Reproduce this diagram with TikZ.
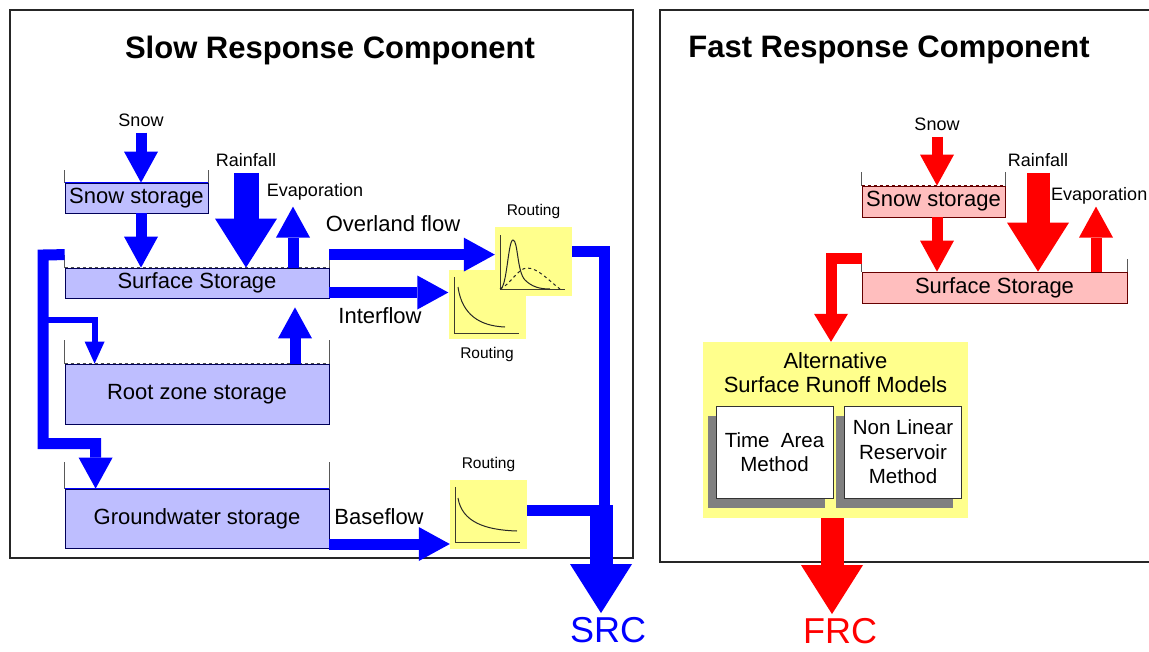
\documentclass[tikz,border=0pt]{standalone}
\usepackage{fontspec}
\setmainfont{Liberation Sans}
\usetikzlibrary{arrows.meta,positioning,shadows}

\definecolor{srcblue}{RGB}{0,0,255}
\definecolor{frcred}{RGB}{255,0,0}
\definecolor{tankblue}{RGB}{190,190,255}
\definecolor{tankpink}{RGB}{255,190,190}
\definecolor{routeyel}{RGB}{255,255,140}

\tikzset{
  panel/.style={draw=black!85, line width=1.2pt},
  title/.style={font=\fontsize{31}{34}\selectfont\bfseries, inner sep=0pt},
  lbl/.style={font=\fontsize{18}{20}\selectfont, inner sep=0pt},
  rlbl/.style={font=\fontsize{15.5}{17}\selectfont, inner sep=0pt},
  flbl/.style={font=\fontsize{22}{24}\selectfont, inner sep=0pt},
  tank/.style={line width=0.8pt, inner sep=0pt, font=\fontsize{22}{24}\selectfont},
  btank/.style={tank, fill=tankblue, draw=blue!35!black},
  rtank/.style={tank, fill=tankpink, draw=red!40!black},
  wall/.style={draw=black!65, line width=1.2pt},
  route/.style={fill=routeyel, inner sep=0pt, minimum width=77pt, minimum height=69pt},
  axis/.style={draw=black!75!olive, line width=1pt},
  curve/.style={draw=black!85, line width=1pt},
  pipe/.style={line width=11pt, line join=miter},
  flow/.style={line width=11pt, line join=miter, -{Triangle[width=34pt,length=31pt,line width=0pt]}},
  thinflow/.style={line width=6pt, line join=miter, -{Triangle[width=20pt,length=22pt,line width=0pt]}},
  bigflow/.style={line width=23pt, -{Triangle[width=62pt,length=49pt,line width=0pt]}},
  method/.style={draw=black!80, fill=white, line width=0.8pt, minimum width=117pt, minimum height=92pt,
    align=center, font=\fontsize{20.5}{24.5}\selectfont, inner sep=0pt,
    drop shadow={shadow xshift=-8.5pt, shadow yshift=-10pt, fill=black!50, opacity=1}},
}

\begin{document}
\begin{tikzpicture}[x=1pt,y=-1pt]
  \useasboundingbox (0,0) rectangle (1149,651);
  \fill[white] (0,0) rectangle (1149,651);

  \draw[panel] (10,10) rectangle (633,558);
  \draw[panel] (1170,10) -| (660,562) -- (1170,562);

  \node[title] (sltitle) at (330,50) {Slow Response Component};
  \node[title] (fstitle) at (889,50) {Fast Response Component};

  % slow response component
  \node[btank, minimum width=143pt, minimum height=30pt] (snowS) at (136.5,198) {Snow storage};
  \node[btank, minimum width=264pt, minimum height=30pt] (surfS) at (197,283) {Surface Storage};
  \node[btank, minimum width=264pt, minimum height=60pt] (rootS) at (197,394) {Root zone storage};
  \node[btank, minimum width=264pt, minimum height=59pt] (gwS) at (197,518.5) {Groundwater storage};

  \draw[wall] (snowS.north west) -- ++(0,-13);
  \draw[wall] (snowS.north east) -- ++(0,-13);
  \draw[wall] (surfS.north west) -- ++(0,-13);
  \draw[wall] (surfS.north east) -- ++(0,-13);
  \draw[wall] (rootS.north west) -- ++(0,-24);
  \draw[wall] (rootS.north east) -- ++(0,-24);
  \draw[wall] (gwS.north west) -- ++(0,-27);
  \draw[wall] (gwS.north east) -- ++(0,-27);
  \draw[srcblue, line width=1.5pt] (snowS.north west) -- (snowS.north east);
  \draw[srcblue, line width=1.5pt] (gwS.north west) -- (gwS.north east);
  \draw[black!70, dashed] (surfS.north west) -- (surfS.north east);
  \draw[black!70, dashed] (rootS.north west) -- (rootS.north east);

  \node[lbl] (snowL) at (141,120) {Snow};
  \node[lbl] (rainL) at (246,160) {Rainfall};
  \node[lbl] (evapL) at (315,192) {Evaporation};
  \node[flbl] (ovlL) at (393,224) {Overland flow};
  \node[flbl] (intL) at (380,316) {Interflow};
  \node[flbl] (baseL) at (379,517) {Baseflow};

  \draw[flow, srcblue] ([yshift=-6pt]snowL.south) -- (snowL.south |- snowS.north);
  \draw[flow, srcblue] (snowL |- snowS.south) -- (snowL |- surfS.north);
  \draw[bigflow, srcblue, line width=25pt] ([yshift=-6pt]rainL.south) -- (rainL |- surfS.north);
  \draw[flow, srcblue] ([xshift=96pt]surfS.north) -- ++(0,-61);
  \draw[flow, srcblue] ([xshift=98pt]rootS.north) -- ([xshift=98pt,yshift=-9pt]surfS.south);

  % routing boxes
  \node[route] (rt2) at (487,304) {};
  \draw[axis] (454,277) -- (454,333) -- (519,333);
  \draw[curve] (458,287) .. controls (462,315) and (480,326) .. (505,327);
  \node[route] (rt1) at (533.5,261.5) {};
  \draw[axis] (500,235) -- (500,289) -- (565,289);
  \draw[curve] (500,289) .. controls (507,289) and (508,240) .. (513,240)
    .. controls (518,240) and (517,272) .. (525,280)
    .. controls (532,287) and (540,289) .. (550,289);
  \draw[curve, dashed] (500,289) .. controls (510,285) and (518,268) .. (527,268)
    .. controls (538,268) and (548,280) .. (560,289);
  \node[route] (rt3) at (488.5,514.5) {};
  \draw[axis] (455,487) -- (455,542) -- (520,542);
  \draw[curve] (458,498) .. controls (462,522) and (485,530) .. (517,531);

  \node[rlbl, above=8pt of rt1] (rt1L) {Routing};
  \node[rlbl, below=8pt of rt2] (rt2L) {Routing};
  \node[rlbl, above=8pt of rt3] (rt3L) {Routing};

  \coordinate (ovl) at ([yshift=13pt]surfS.north east);
  \coordinate (ifl) at ([yshift=-9.5pt]surfS.east);
  \coordinate (bfl) at ([yshift=-25.5pt]gwS.east);
  \draw[flow, srcblue] (ovl) -- (ovl -| rt1.west);
  \draw[flow, srcblue] (ifl) -- (ifl -| rt2.west);
  \draw[flow, srcblue] (bfl) -- (bfl -| rt3.west);

  % left pipe
  \coordinate (lpipe) at ([yshift=13pt]surfS.north west);
  \coordinate (rtsplit) at (43,320);
  \draw[flow, srcblue] (lpipe) -- (43,255) -- (43,443.5) -| ([xshift=31pt]gwS.north west);
  \draw[thinflow, srcblue] (rtsplit) -| ([xshift=30pt]rootS.north west);

  % right pipe
  \node[font=\fontsize{36}{40}\selectfont, text=srcblue, inner sep=0pt] (src) at (608,630) {SRC};
  \coordinate (rt1out) at ([yshift=10pt]rt1.east);
  \coordinate (rt3out) at ([yshift=4pt]rt3.east);
  \coordinate (srcjoin) at (601,505);
  \draw[pipe, srcblue] (rt1out) -| (604.5,516);
  \draw[pipe, srcblue] (rt3out) -- (610,510.5);
  \draw[bigflow, srcblue] (srcjoin) -- ([xshift=-7pt,yshift=4pt]src.north);

  % fast response component
  \node[rtank, minimum width=143pt, minimum height=31pt] (snowS2) at (933.5,201.5) {Snow storage};
  \node[rtank, minimum width=265pt, minimum height=31pt] (surfS2) at (994.5,287.5) {Surface Storage};
  \draw[wall] (snowS2.north west) -- ++(0,-14);
  \draw[wall] (snowS2.north east) -- ++(0,-14);
  \draw[wall] (surfS2.north west) -- ++(0,-13);
  \draw[wall] (surfS2.north east) -- ++(0,-13);
  \draw[red!40!black, dashed] (snowS2.north west) -- (snowS2.north east);

  \node[lbl] (snowL2) at (937,124) {Snow};
  \node[lbl] (rainL2) at (1038,160) {Rainfall};
  \node[lbl, anchor=west] (evapL2) at (1051,196) {Evaporation};

  \draw[flow, frcred] ([yshift=-6pt]snowL2.south) -- (snowL2.south |- snowS2.north);
  \draw[flow, frcred] (snowL2 |- snowS2.south) -- (snowL2 |- surfS2.north);
  \draw[bigflow, frcred] ([yshift=-6pt]rainL2.south) -- (rainL2 |- surfS2.north);
  \draw[flow, frcred] ([xshift=101.5pt]surfS2.north) -- ++(0,-65);

  \node[fill=routeyel, minimum width=265pt, minimum height=176pt, inner sep=0pt] (alt) at (835.5,430) {};
  \node[flbl, align=center, below=11pt of alt.north] (altL) {Alternative\\Surface Runoff Models};
  \node[method] (tam) at (774.5,452) {Time~~Area\\Method};
  \node[method] (nlr) at (903,452) {Non Linear\\Reservoir\\Method};

  \coordinate (frcsplit) at ([yshift=13pt]surfS2.north west);
  \draw[flow, frcred, -{Triangle[width=34pt,length=28pt,line width=0pt]}] (frcsplit) -| ([xshift=-4.5pt]alt.north);

  \node[font=\fontsize{36}{40}\selectfont, text=frcred, inner sep=0pt] (frc) at (840,631) {FRC};
  \draw[bigflow, frcred] ([xshift=-3.5pt]alt.south) -- ([xshift=-8pt,yshift=4pt]frc.north);
\end{tikzpicture}
\end{document}
